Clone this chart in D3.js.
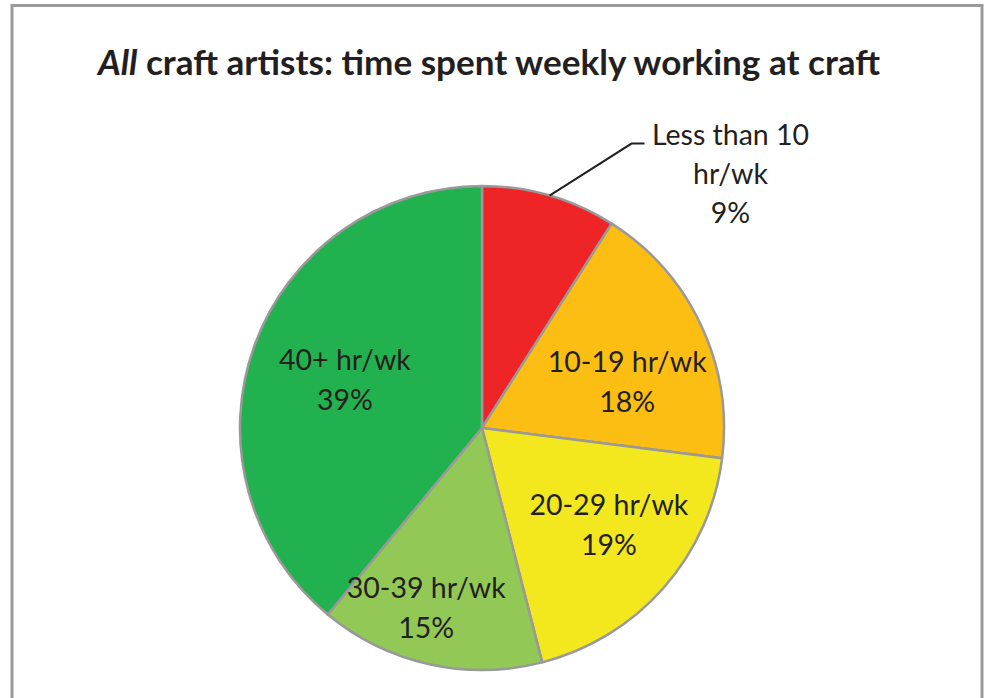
<!DOCTYPE html>
<html>
<head>
<meta charset="utf-8">
<script src="https://cdn.jsdelivr.net/npm/d3@7/dist/d3.min.js"></script>
<style>
  html, body { margin: 0; padding: 0; background: #fff; }
  svg { display: block; }
</style>
</head>
<body>
<svg id="chart" width="986" height="698"></svg>
<script>
// Weekly hours spent on craft work, share of all craft artists
const categories = ["Less than 10 hr/wk", "10-19 hr/wk", "20-29 hr/wk", "30-39 hr/wk", "40+ hr/wk"];
const shares = [9, 18, 19, 15, 39];
const sliceColors = ["#EE2427", "#FDBE14", "#F2E81D", "#92C855", "#22B14F"];

const W = 986, H = 698;
const cx = 482, cy = 428, R = 242;
const textColor = "#231F20";
const fontFamily = "Lato, 'Open Sans', sans-serif";

const svg = d3.select("#chart");

// outer frame (continues past the bottom edge)
svg.append("rect")
  .attr("x", 12).attr("y", 5.5)
  .attr("width", 970).attr("height", 760)
  .attr("fill", "none")
  .attr("stroke", "#9A9A9A")
  .attr("stroke-width", 3);

// title, with the first word in italics
const title = svg.append("text")
  .attr("x", 489).attr("y", 75)
  .attr("text-anchor", "middle")
  .attr("font-family", fontFamily)
  .attr("font-weight", "bold")
  .attr("font-size", 35.1)
  .attr("fill", textColor);
title.append("tspan").attr("font-style", "italic").text("All");
title.append("tspan").text(" craft artists: time spent weekly working at craft");

const data = categories.map((c, i) => ({ name: c, value: shares[i], color: sliceColors[i] }));

const pie = d3.pie().value(d => d.value).sort(null);
const arcs = pie(data);
const arc = d3.arc().innerRadius(0).outerRadius(R);

const g = svg.append("g").attr("transform", `translate(${cx},${cy})`);

g.selectAll("path.slice")
  .data(arcs)
  .join("path")
  .attr("class", "slice")
  .attr("d", arc)
  .attr("fill", d => d.data.color)
  .attr("stroke", "#999999")
  .attr("stroke-width", 2.5)
  .attr("stroke-linejoin", "round");

// label anchor radius / angle nudges (fraction of radius, radians) per slice
const labelLayout = [
  null,
  { r: 0.63, da: 0.13 },
  { r: 0.66, da: -0.07 },
  { r: 0.78, da: 0.08 },
  { r: 0.60, da: -0.01 }
];

const lineGap = 40;
const fontSize = 28.5;

function splitLabel(name, value) {
  const m = name.match(/^(.*) (hr\/wk)$/);
  return [m[1] + " " + m[2], value + "%"];
}

arcs.forEach((a, i) => {
  const lay = labelLayout[i];
  if (!lay) return;
  const mid = (a.startAngle + a.endAngle) / 2 + lay.da;
  const r = lay.r * R;
  const x = Math.sin(mid) * r;
  const y = -Math.cos(mid) * r;
  const lines = splitLabel(a.data.name, a.data.value);
  const t = g.append("text")
    .attr("text-anchor", "middle")
    .attr("font-family", fontFamily)
    .attr("font-size", fontSize)
    .attr("fill", textColor);
  lines.forEach((ln, k) => {
    t.append("tspan")
      .attr("x", x)
      .attr("y", y + (k - (lines.length - 1) / 2) * lineGap + 10)
      .text(ln);
  });
});

// outside label for the smallest slice, with a leader line
const small = arcs[0];
const smallMid = (small.startAngle + small.endAngle) / 2;
const edge = [Math.sin(smallMid) * R, -Math.cos(smallMid) * R];
const elbow = [edge[0] + 82, edge[1] - 52];
const tail = [elbow[0] + 13, elbow[1]];
g.append("polyline")
  .attr("points", [edge, elbow, tail].map(p => p.join(",")).join(" "))
  .attr("fill", "none")
  .attr("stroke", textColor)
  .attr("stroke-width", 2);

const outLines = ["Less than 10", "hr/wk", small.data.value + "%"];
const ot = g.append("text")
  .attr("text-anchor", "middle")
  .attr("font-family", fontFamily)
  .attr("font-size", fontSize)
  .attr("fill", textColor);
outLines.forEach((ln, k) => {
  ot.append("tspan")
    .attr("x", tail[0] + 86)
    .attr("y", tail[1] + 1 + k * 39)
    .text(ln);
});
</script>
</body>
</html>
